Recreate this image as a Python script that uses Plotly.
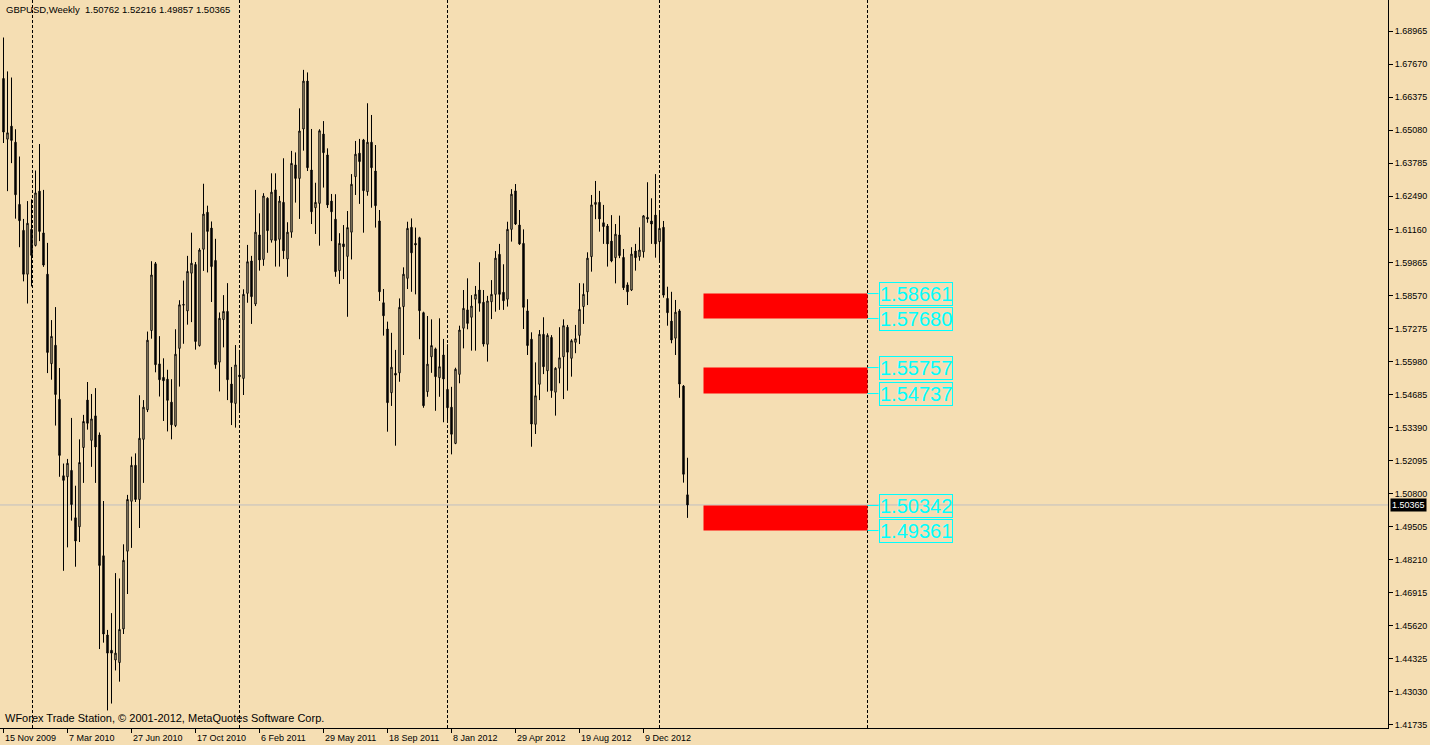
import plotly.graph_objects as go

# ---------------- data ----------------
symbol_title = "GBPUSD,Weekly  1.50762 1.52216 1.49857 1.50365"
footer_text = "WForex Trade Station, \u00a9 2001-2012, MetaQuotes Software Corp."

opens = [1.6710, 1.6472, 1.6523, 1.6460, 1.6216, 1.6114, 1.5942, 1.6118, 1.6055, 1.6268,
         1.6104, 1.5942, 1.5591, 1.5663, 1.5451, 1.5151, 1.5147, 1.5172, 1.4986, 1.4951,
         1.5262, 1.5448, 1.5290, 1.5386, 1.5311, 1.4837, 1.4526, 1.4466, 1.4428, 1.4418,
         1.4550, 1.4855, 1.5051, 1.5192, 1.5058, 1.5294, 1.5410, 1.5721, 1.5983, 1.5590,
         1.5537, 1.5530, 1.5440, 1.5348, 1.5651, 1.5823, 1.5798, 1.5946, 1.5980, 1.5662,
         1.6040, 1.6185, 1.6123, 1.5996, 1.5597, 1.5764, 1.5796, 1.5511, 1.5435, 1.5546,
         1.5533, 1.5867, 1.5994, 1.5825, 1.6096, 1.6000, 1.6240, 1.6076, 1.6273, 1.6079,
         1.6224, 1.6002, 1.6107, 1.6371, 1.6318, 1.6512, 1.6700, 1.6351, 1.6203, 1.6220,
         1.6492, 1.6410, 1.6229, 1.6158, 1.5956, 1.6061, 1.6012, 1.6107, 1.6325, 1.6417,
         1.6469, 1.6266, 1.6460, 1.6347, 1.6151, 1.5830, 1.5727, 1.5477, 1.5553, 1.5555,
         1.5815, 1.5926, 1.6126, 1.6063, 1.6085, 1.5791, 1.5481, 1.5618, 1.5649, 1.5536,
         1.5625, 1.5490, 1.5420, 1.5278, 1.5549, 1.5730, 1.5802, 1.5773, 1.5844, 1.5880,
         1.5832, 1.5667, 1.5834, 1.5863, 1.6020, 1.5871, 1.5844, 1.6118, 1.6269, 1.6135,
         1.6063, 1.5798, 1.5687, 1.5353, 1.5510, 1.5706, 1.5563, 1.5694, 1.5479, 1.5573,
         1.5618, 1.5734, 1.5612, 1.5675, 1.5702, 1.5815, 1.5873, 1.6011, 1.6216, 1.6224,
         1.6144, 1.6131, 1.6072, 1.6007, 1.6096, 1.6008, 1.5900, 1.5880, 1.6033, 1.6011,
         1.6030, 1.6165, 1.6151, 1.6174, 1.6070, 1.6126, 1.5847, 1.5758, 1.5691, 1.5798,
         1.5503, 1.50762]
highs = [1.6871, 1.6738, 1.6714, 1.6511, 1.6404, 1.6159, 1.6229, 1.6236, 1.6349, 1.6453,
         1.6273, 1.6065, 1.5762, 1.5813, 1.5574, 1.5199, 1.5217, 1.5378, 1.5112, 1.5294,
         1.5390, 1.5519, 1.5472, 1.5495, 1.5321, 1.5052, 1.4546, 1.4612, 1.4769, 1.4748,
         1.4882, 1.5076, 1.5226, 1.5239, 1.5467, 1.5448, 1.5717, 1.5993, 1.5990, 1.5699,
         1.5612, 1.5567, 1.5530, 1.5726, 1.5840, 1.5917, 1.6014, 1.6105, 1.5990, 1.6044,
         1.6297, 1.6211, 1.6149, 1.6081, 1.5792, 1.5860, 1.5907, 1.5578, 1.5664, 1.5645,
         1.5883, 1.6057, 1.6014, 1.6273, 1.6181, 1.6260, 1.6244, 1.6338, 1.6338, 1.6249,
         1.6397, 1.6146, 1.6426, 1.6420, 1.6593, 1.6744, 1.6734, 1.6512, 1.6301, 1.6511,
         1.6543, 1.6436, 1.6257, 1.6256, 1.6103, 1.6135, 1.6190, 1.6335, 1.6465, 1.6473,
         1.6473, 1.6613, 1.6567, 1.6449, 1.6194, 1.5884, 1.5756, 1.5712, 1.5645, 1.5847,
         1.5969, 1.6148, 1.6161, 1.6125, 1.6089, 1.5795, 1.5778, 1.5765, 1.5654, 1.5769,
         1.5688, 1.5667, 1.5500, 1.5575, 1.5740, 1.5880, 1.5926, 1.5860, 1.5896, 1.5989,
         1.5880, 1.5857, 1.5919, 1.6033, 1.6061, 1.5981, 1.6148, 1.6276, 1.6296, 1.6194,
         1.6118, 1.5844, 1.5714, 1.5596, 1.5723, 1.5773, 1.5710, 1.5703, 1.5577, 1.5734,
         1.5765, 1.5743, 1.5687, 1.5743, 1.5907, 1.5906, 1.6028, 1.6253, 1.6308, 1.6269,
         1.6214, 1.6139, 1.6174, 1.6139, 1.6172, 1.6041, 1.5910, 1.6048, 1.6061, 1.6126,
         1.6174, 1.6303, 1.6240, 1.6335, 1.6185, 1.6151, 1.5893, 1.5873, 1.5841, 1.5805,
         1.5507, 1.52216]
lows = [1.6457, 1.6268, 1.6378, 1.6160, 1.6048, 1.5914, 1.5827, 1.5894, 1.6051, 1.6072,
        1.5971, 1.5554, 1.5528, 1.5348, 1.5147, 1.4778, 1.4870, 1.4975, 1.4794, 1.4891,
        1.5123, 1.5332, 1.5186, 1.5123, 1.4471, 1.4496, 1.4230, 1.4257, 1.4387, 1.4343,
        1.4530, 1.4687, 1.4868, 1.5048, 1.4946, 1.5123, 1.5401, 1.5689, 1.5557, 1.5462,
        1.5366, 1.5325, 1.5294, 1.5342, 1.5501, 1.5669, 1.5744, 1.5754, 1.5646, 1.5658,
        1.5955, 1.5949, 1.5833, 1.5571, 1.5482, 1.5655, 1.5448, 1.5350, 1.5340, 1.5398,
        1.5468, 1.5830, 1.5747, 1.5817, 1.5956, 1.5975, 1.6026, 1.6066, 1.5972, 1.5972,
        1.6002, 1.5932, 1.6085, 1.6223, 1.6159, 1.6427, 1.6347, 1.6139, 1.6100, 1.6054,
        1.6282, 1.6202, 1.6072, 1.5932, 1.5904, 1.5923, 1.5775, 1.6000, 1.6253, 1.6218,
        1.6105, 1.6250, 1.6203, 1.6125, 1.5837, 1.5701, 1.5324, 1.5425, 1.5269, 1.5520,
        1.5625, 1.5884, 1.5873, 1.5863, 1.5687, 1.5418, 1.5461, 1.5555, 1.5406, 1.5461,
        1.5361, 1.5370, 1.5235, 1.5275, 1.5514, 1.5651, 1.5726, 1.5642, 1.5642, 1.5795,
        1.5658, 1.5599, 1.5766, 1.5795, 1.5802, 1.5802, 1.5815, 1.6070, 1.6135, 1.6057,
        1.5727, 1.5625, 1.5265, 1.5315, 1.5448, 1.5550, 1.5481, 1.5457, 1.5387, 1.5514,
        1.5452, 1.5485, 1.5540, 1.5632, 1.5668, 1.5747, 1.5821, 1.5952, 1.6158, 1.6109,
        1.6061, 1.5972, 1.5989, 1.5906, 1.6005, 1.5880, 1.5821, 1.5876, 1.5956, 1.5995,
        1.6007, 1.6144, 1.6061, 1.6007, 1.5987, 1.5850, 1.5740, 1.5671, 1.5625, 1.5457,
        1.5124, 1.49857]
closes = [1.6500, 1.6497, 1.6467, 1.6254, 1.6152, 1.5942, 1.6142, 1.6016, 1.6261, 1.6110,
          1.5978, 1.5635, 1.5698, 1.5470, 1.5231, 1.5133, 1.5200, 1.5038, 1.4895, 1.5203,
          1.5364, 1.5357, 1.5374, 1.5264, 1.4799, 1.4530, 1.4455, 1.4455, 1.4455, 1.4548,
          1.4819, 1.5058, 1.5192, 1.5058, 1.5298, 1.5420, 1.5683, 1.5939, 1.5587, 1.5528,
          1.5524, 1.5447, 1.5351, 1.5628, 1.5822, 1.5821, 1.5953, 1.5985, 1.5678, 1.6037,
          1.6178, 1.6110, 1.5972, 1.5587, 1.5769, 1.5796, 1.5528, 1.5438, 1.5586, 1.5540,
          1.5863, 1.5991, 1.5854, 1.6107, 1.5998, 1.6249, 1.6113, 1.6264, 1.6074, 1.6229,
          1.6034, 1.6107, 1.6377, 1.6318, 1.6504, 1.6700, 1.6360, 1.6187, 1.6224, 1.6505,
          1.6419, 1.6214, 1.6187, 1.5952, 1.6063, 1.6050, 1.6125, 1.6295, 1.6413, 1.6384,
          1.6270, 1.6460, 1.6360, 1.6211, 1.5873, 1.5779, 1.5438, 1.5577, 1.5546, 1.5812,
          1.5942, 1.6122, 1.6026, 1.6057, 1.5799, 1.5426, 1.5589, 1.5662, 1.5540, 1.5579,
          1.5531, 1.5418, 1.5314, 1.5569, 1.5723, 1.5808, 1.5749, 1.5817, 1.5863, 1.5828,
          1.5668, 1.5837, 1.5863, 1.6005, 1.5863, 1.5838, 1.6118, 1.6256, 1.6139, 1.6061,
          1.5812, 1.5662, 1.5354, 1.5465, 1.5706, 1.5579, 1.5702, 1.5485, 1.5573, 1.5614,
          1.5740, 1.5636, 1.5681, 1.5689, 1.5804, 1.5863, 1.6005, 1.6214, 1.6224, 1.6159,
          1.6129, 1.6061, 1.5994, 1.6099, 1.6015, 1.5889, 1.5873, 1.6021, 1.6007, 1.6037,
          1.6171, 1.6159, 1.6139, 1.6061, 1.6122, 1.5860, 1.5791, 1.5684, 1.5793, 1.5511,
          1.5157, 1.50365]

bar_index = list(range(len(opens)))

date_tick_bars = [0, 16, 32, 48, 64, 80, 96, 112, 128, 144, 160]
date_tick_labels = ["15 Nov 2009", "7 Mar 2010", "27 Jun 2010", "17 Oct 2010", "6 Feb 2011",
                    "29 May 2011", "18 Sep 2011", "8 Jan 2012", "29 Apr 2012", "19 Aug 2012",
                    "9 Dec 2012"]

price_ticks = [1.68965, 1.67670, 1.66375, 1.65080, 1.63785, 1.62490, 1.61160, 1.59865,
               1.58570, 1.57275, 1.55980, 1.54685, 1.53390, 1.52095, 1.50800, 1.49505,
               1.48210, 1.46915, 1.45620, 1.44325, 1.43030, 1.41735]
price_tick_labels = ["1.68965", "1.67670", "1.66375", "1.65080", "1.63785", "1.62490",
                     "1.61160", "1.59865", "1.58570", "1.57275", "1.55980", "1.54685",
                     "1.53390", "1.52095", "1.50800", "1.49505", "1.48210", "1.46915",
                     "1.45620", "1.44325", "1.43030", "1.41735"]

year_separators = [7.25, 59, 111, 164, 216]     # bar positions of period separators

bid_price = 1.50365

zone_tops = [1.58661, 1.55757, 1.50342]
zone_bottoms = [1.57680, 1.54737, 1.49361]
zone_start_bar = 175
zone_end_bar = 216
label_bar = 218.75

# ---------------- styling ----------------
BG = "#F5DEB3"
FONT = "Liberation Sans"
x_range = [-0.875, 346.125]
y_range = [1.41611, 1.70182]

fig = go.Figure()

fig.add_trace(go.Candlestick(
    x=bar_index, open=opens, high=highs, low=lows, close=closes,
    increasing=dict(line=dict(color="black", width=1), fillcolor=BG),
    decreasing=dict(line=dict(color="black", width=1), fillcolor="black"),
    whiskerwidth=0, showlegend=False, hoverinfo="skip",
))

shapes = []
# period separators (dotted verticals)
for s in year_separators:
    shapes.append(dict(type="line", xref="x", yref="paper", x0=s, x1=s, y0=0, y1=1,
                       line=dict(color="black", width=1, dash="3px,2px"), layer="below"))
# bid line
shapes.append(dict(type="line", xref="paper", yref="y", x0=0, x1=1, y0=bid_price, y1=bid_price,
                   line=dict(color="#C0C0C0", width=1), layer="below"))
# red zones and label connectors
for top, bot in zip(zone_tops, zone_bottoms):
    shapes.append(dict(type="rect", xref="x", yref="y", x0=zone_start_bar, x1=zone_end_bar,
                       y0=bot, y1=top, fillcolor="#FF0000", line=dict(width=0), layer="above"))
    for p in (top, bot):
        shapes.append(dict(type="line", xref="x", yref="y", x0=zone_end_bar, x1=label_bar,
                           y0=p, y1=p, line=dict(color="#00FFFF", width=1)))

annotations = []
for top, bot in zip(zone_tops, zone_bottoms):
    for p in (top, bot):
        annotations.append(dict(x=label_bar, y=p, xref="x", yref="y", xanchor="left",
                                yanchor="middle", text=f"{p:.5f}", showarrow=False,
                                font=dict(family=FONT, size=20, color="#00FFFF"),
                                bordercolor="#00FFFF", borderwidth=1, borderpad=0,
                                bgcolor="rgba(0,0,0,0)"))
# date labels (left-aligned at their tick)
for b, lab in zip(date_tick_bars, date_tick_labels):
    annotations.append(dict(x=b, y=0, xref="x", yref="paper", xanchor="left", yanchor="top",
                            xshift=-1, yshift=-3, text=lab, showarrow=False,
                            font=dict(family=FONT, size=9, color="black")))
# title & footer
annotations.append(dict(x=0, y=1, xref="paper", yref="paper", xanchor="left", yanchor="top",
                        xshift=4, yshift=-2, text=symbol_title, showarrow=False,
                        font=dict(family=FONT, size=9.5, color="black")))
annotations.append(dict(x=0, y=0, xref="paper", yref="paper", xanchor="left", yanchor="bottom",
                        xshift=3, yshift=2, text=footer_text, showarrow=False,
                        font=dict(family=FONT, size=11, color="black")))
# current price label on the axis
annotations.append(dict(x=1, y=bid_price, xref="paper", yref="y", xanchor="left",
                        yanchor="middle", xshift=2, text=f"{bid_price:.5f}", showarrow=False,
                        bgcolor="black", borderpad=1,
                        font=dict(family=FONT, size=9, color="white")))

fig.update_layout(
    width=1430, height=745,
    margin=dict(l=0, r=42, t=0, b=17),
    paper_bgcolor=BG, plot_bgcolor=BG,
    boxgap=0.5,
    shapes=shapes, annotations=annotations,
    showlegend=False,
    xaxis=dict(range=x_range, rangeslider=dict(visible=False), showgrid=False, zeroline=False,
               tickmode="array", tickvals=date_tick_bars, ticktext=[""] * len(date_tick_bars),
               ticks="outside", ticklen=4, tickcolor="black", showline=True, linecolor="black",
               linewidth=1, mirror=True, fixedrange=True),
    yaxis=dict(range=y_range, side="right", showgrid=False, zeroline=False,
               tickmode="array", tickvals=price_ticks, ticktext=price_tick_labels,
               ticks="outside", ticklen=4, tickcolor="black", showline=True, linecolor="black",
               linewidth=1, mirror=True,
               tickfont=dict(family=FONT, size=9, color="black"), fixedrange=True),
)

fig.write_html("out.html", config={"displayModeBar": False},
               post_script="document.body.style.margin='0';document.body.style.background='#F5DEB3';")
